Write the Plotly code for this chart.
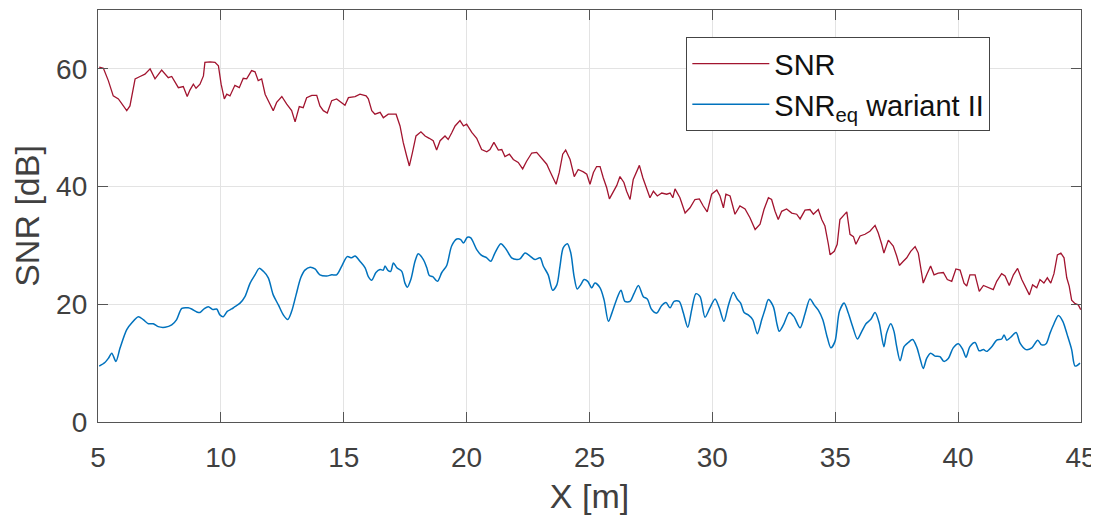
import plotly.graph_objects as go

# SNR curve (x in m, y in dB)
snr_x = [5.05, 5.22, 5.42, 5.62, 5.83, 6.03, 6.17, 6.30, 6.51, 6.71, 6.91, 7.12, 7.32, 7.59, 7.86, 8.00,
         8.27, 8.47, 8.63, 8.74, 8.88, 8.99, 9.15, 9.29, 9.35, 9.56, 9.76, 9.90, 10.01, 10.14, 10.24,
         10.37, 10.57, 10.75, 10.91, 11.05, 11.25, 11.39, 11.52, 11.66, 11.80, 12.00, 12.13, 12.27,
         12.48, 12.68, 12.88, 13.02, 13.19, 13.35, 13.49, 13.70, 13.90, 14.03, 14.17, 14.33, 14.51,
         14.71, 14.92, 15.05, 15.19, 15.46, 15.66, 15.91, 16.00, 16.14, 16.27, 16.48, 16.61, 16.81,
         17.02, 17.13, 17.29, 17.42, 17.56, 17.67, 17.79, 17.94, 18.14, 18.31, 18.48, 18.64, 18.78,
         18.92, 19.12, 19.25, 19.39, 19.53, 19.73, 19.87, 20.00, 20.21, 20.41, 20.61, 20.82, 20.95,
         21.11, 21.29, 21.43, 21.56, 21.74, 21.90, 22.10, 22.28, 22.44, 22.65, 22.85, 23.06, 23.26,
         23.39, 23.53, 23.64, 23.77, 23.91, 24.03, 24.21, 24.38, 24.54, 24.75, 24.89, 25.02, 25.16,
         25.29, 25.43, 25.56, 25.70, 25.81, 25.94, 26.11, 26.24, 26.40, 26.51, 26.65, 26.78, 26.92,
         27.03, 27.17, 27.30, 27.46, 27.60, 27.76, 27.94, 28.14, 28.28, 28.39, 28.48, 28.68, 28.89,
         29.09, 29.29, 29.47, 29.63, 29.79, 29.97, 30.18, 30.31, 30.45, 30.55, 30.72, 30.92, 31.12,
         31.33, 31.53, 31.74, 31.94, 32.10, 32.28, 32.41, 32.55, 32.68, 32.82, 33.02, 33.23, 33.43,
         33.57, 33.77, 33.97, 34.11, 34.31, 34.45, 34.58, 34.72, 34.79, 34.96, 35.08, 35.19, 35.33,
         35.47, 35.60, 35.74, 35.84, 36.01, 36.21, 36.41, 36.62, 36.75, 36.89, 36.98, 37.16, 37.36,
         37.50, 37.61, 37.77, 37.91, 38.07, 38.25, 38.38, 38.52, 38.58, 38.72, 38.88, 39.02, 39.19,
         39.40, 39.56, 39.74, 39.91, 40.08, 40.24, 40.35, 40.48, 40.69, 40.86, 41.03, 41.23, 41.43,
         41.57, 41.77, 41.91, 42.08, 42.25, 42.42, 42.59, 42.72, 42.90, 43.03, 43.20, 43.33, 43.49,
         43.63, 43.77, 43.90, 44.04, 44.18, 44.31, 44.42, 44.52, 44.62, 44.76, 44.89, 44.99]
snr_y = [60.3, 60.1, 58.0, 55.4, 54.9, 53.8, 52.9, 53.7, 58.3, 58.7, 59.1, 60.0, 58.3, 59.8, 58.5, 58.7,
         56.8, 57.0, 55.3, 56.4, 57.4, 56.7, 57.4, 58.8, 61.1, 61.2, 61.1, 60.5, 57.4, 54.9, 55.7,
         55.4, 57.2, 56.8, 58.4, 58.3, 59.7, 59.5, 58.0, 58.3, 55.7, 54.0, 52.9, 54.3,
         55.3, 54.0, 52.9, 51.0, 53.6, 53.4, 55.1, 55.5, 55.5, 53.7, 52.9, 52.5, 54.6,
         54.9, 54.3, 53.8, 55.1, 55.3, 55.7, 55.4, 54.9, 52.9, 52.3, 52.6, 51.7, 52.3,
         52.3, 52.3, 50.3, 47.5, 45.2, 43.5, 45.7, 48.6, 49.3, 48.6, 48.2, 47.8, 46.2,
         47.8, 48.6, 48.0, 49.1, 50.3, 51.2, 50.3, 50.6, 49.2, 48.2, 46.3, 45.9, 46.3,
         47.5, 46.2, 46.3, 45.1, 45.5, 44.6, 44.1, 43.0, 44.3, 45.7, 45.8, 44.7, 43.8,
         42.6, 41.3, 40.4, 42.4, 45.5, 46.2, 44.6, 41.7, 42.9, 42.5, 42.1, 40.4, 42.4,
         43.4, 43.4, 41.5, 39.8, 37.9, 38.9, 40.2, 41.7, 40.7, 39.2, 37.8, 41.2, 42.6,
         43.6, 41.5, 40.0, 38.1, 39.2, 38.4, 38.9, 38.7, 38.9, 38.1, 39.6, 38.1, 35.5,
         36.4, 37.8, 37.9, 36.7, 35.7, 38.7, 39.4, 38.4, 36.4, 38.7, 38.4, 35.3, 36.7,
         36.2, 34.7, 32.7, 33.6, 36.1, 38.1, 37.8, 35.8, 34.4, 35.8, 36.2, 35.5, 35.3,
         34.5, 36.0, 36.1, 35.3, 36.1, 34.4, 33.3, 30.2, 28.4, 29.0, 30.2, 34.4, 35.1,
         35.7, 31.9, 31.5, 30.2, 31.6, 31.9, 32.4, 33.4, 32.1, 30.2, 28.7, 30.9, 29.9,
         28.2, 26.6, 27.3, 27.9, 29.0, 29.8, 28.7, 25.0, 23.6, 25.0, 26.5, 25.0, 25.3,
         25.4, 24.2, 23.9, 26.0, 25.8, 23.6, 23.1, 25.0, 25.0, 22.2, 23.2, 22.8, 22.5,
         23.9, 25.2, 24.8, 23.2, 25.0, 26.1, 24.2, 23.1, 21.6, 23.3, 22.8, 24.2, 23.6,
         24.5, 23.6, 25.2, 28.4, 28.7, 27.9, 24.5, 23.1, 20.7, 20.1, 19.9, 19.1]

# SNR_eq wariant II curve
eq_x = [5.05, 5.28, 5.42, 5.56, 5.73, 5.90, 6.17, 6.37, 6.64, 6.84, 7.05, 7.25, 7.45, 7.73, 8.00, 8.20,
        8.41, 8.67, 8.81, 9.02, 9.15, 9.31, 9.49, 9.67, 9.83, 9.96, 10.10, 10.26, 10.44, 10.57, 10.78,
        10.98, 11.19, 11.39, 11.56, 11.73, 11.93, 12.13, 12.34, 12.54, 12.72, 12.88, 13.06, 13.25,
        13.42, 13.63, 13.83, 14.03, 14.31, 14.51, 14.71, 14.92, 15.14, 15.32, 15.46, 15.66, 15.87,
        16.00, 16.14, 16.31, 16.48, 16.61, 16.68, 16.81, 16.91, 17.02, 17.16, 17.36, 17.49, 17.59,
        17.73, 17.90, 18.03, 18.24, 18.38, 18.48, 18.62, 18.81, 18.99, 19.19, 19.39, 19.60, 19.76,
        19.87, 20.03, 20.17, 20.41, 20.61, 20.82, 20.98, 21.15, 21.39, 21.60, 21.83, 22.04, 22.17,
        22.38, 22.58, 22.78, 22.99, 23.12, 23.32, 23.50, 23.67, 23.80, 23.93, 24.10, 24.24, 24.37,
        24.50, 24.64, 24.78, 24.93, 25.09, 25.22, 25.43, 25.59, 25.77, 25.91, 26.11, 26.28, 26.44,
        26.65, 26.81, 26.99, 27.19, 27.35, 27.53, 27.73, 27.94, 28.11, 28.28, 28.44, 28.65, 28.82,
        29.00, 29.16, 29.33, 29.50, 29.70, 29.90, 30.11, 30.28, 30.47, 30.65, 30.85, 31.01, 31.15,
        31.29, 31.46, 31.64, 31.83, 32.01, 32.14, 32.28, 32.48, 32.62, 32.72, 32.89, 33.13, 33.32,
        33.57, 33.77, 33.97, 34.14, 34.31, 34.49, 34.68, 34.82, 34.99, 35.17, 35.36, 35.53, 35.71,
        35.90, 36.08, 36.25, 36.44, 36.62, 36.79, 36.98, 37.09, 37.26, 37.39, 37.50, 37.64, 37.80,
        37.97, 38.15, 38.31, 38.45, 38.58, 38.72, 38.88, 39.06, 39.26, 39.42, 39.60, 39.80, 40.01,
        40.19, 40.32, 40.48, 40.69, 40.86, 41.03, 41.16, 41.37, 41.57, 41.77, 41.87, 41.98, 42.14,
        42.36, 42.52, 42.76, 43.00, 43.24, 43.40, 43.58, 43.74, 43.90, 44.08, 44.26, 44.44, 44.62,
        44.76, 44.96]
eq_y = [9.5, 10.1, 10.8, 11.7, 10.3, 12.6, 15.7, 16.8, 17.9, 17.4, 16.7, 16.7, 16.2, 16.1, 16.5, 17.4,
        19.3, 19.4, 19.2, 18.7, 18.6, 19.2, 19.6, 19.1, 19.2, 18.2, 17.9, 18.8, 19.2, 19.6, 20.2,
        21.3, 23.6, 25.0, 26.1, 25.6, 24.5, 21.6, 19.9, 18.2, 17.4, 18.8, 21.6, 24.5,
        25.8, 26.3, 26.0, 25.0, 24.8, 25.0, 25.0, 26.5, 28.1, 27.9, 28.2, 27.3, 26.2,
        24.7, 24.1, 25.4, 25.9, 25.8, 26.5, 25.7, 25.6, 27.0, 26.2, 25.6, 23.6, 22.9,
        24.2, 27.3, 28.6, 27.6, 26.2, 24.9, 24.7, 23.9, 25.4, 26.6, 29.9, 31.1, 31.0,
        30.4, 31.4, 31.3, 29.3, 28.3, 27.9, 27.3, 28.7, 30.3, 29.4, 27.9, 27.6, 27.7,
        28.7, 28.2, 27.6, 27.9, 26.5, 25.0, 22.4, 23.3, 26.5, 29.6, 30.3, 28.7, 24.8,
        22.6, 23.3, 24.2, 23.9, 22.8, 23.6, 22.8, 20.8, 17.1, 18.5, 20.9, 22.4, 20.5,
        20.5, 21.8, 23.2, 21.3, 20.9, 19.1, 18.5, 19.8, 20.3, 19.4, 20.5, 20.5, 18.5,
        16.1, 19.1, 21.8, 21.3, 17.8, 19.4, 20.9, 19.4, 17.1, 19.8, 22.0, 20.9, 20.2,
        18.6, 18.2, 17.4, 15.0, 17.4, 19.1, 20.8, 19.6, 16.8, 15.4, 16.5, 18.6, 17.9,
        16.0, 18.4, 20.9, 19.9, 19.0, 17.4, 14.3, 12.6, 13.7, 18.8, 20.2, 18.5, 16.2,
        14.1, 15.4, 16.7, 17.4, 18.6, 16.8, 12.8, 15.1, 16.7, 15.4, 12.8, 10.4, 12.8,
        13.5, 14.0, 12.8, 10.8, 9.1, 10.8, 11.7, 11.2, 11.1, 10.3, 10.8, 12.6, 13.3,
        12.3, 11.0, 12.8, 13.5, 12.1, 12.3, 12.0, 12.8, 13.9, 14.1, 14.8, 13.9, 14.4,
        15.2, 13.4, 12.3, 12.6, 13.9, 13.1, 13.3, 15.1, 16.7, 18.1, 17.1, 14.8, 12.3,
        9.5, 10.0]

x_ticks = [5, 10, 15, 20, 25, 30, 35, 40, 45]
y_ticks = [0, 20, 40, 60]
series_names = ["SNR", "SNR<sub>eq</sub> wariant II"]

TXT = "#404040"
FONT = "Liberation Sans, Arial, sans-serif"

fig = go.Figure()
fig.add_trace(go.Scatter(x=snr_x, y=snr_y, mode="lines", name=series_names[0], legendgroup="a",
                         line=dict(color="#A2142F", width=1.3)))
fig.add_trace(go.Scatter(x=eq_x, y=eq_y, mode="lines", name=series_names[1], legendgroup="b",
                         line=dict(color="#0072BD", width=1.5, shape="spline", smoothing=0.8)))

axis_common = dict(
    showline=True, linecolor="#555555", linewidth=1.3, mirror="ticks",
    ticks="inside", ticklen=10, tickwidth=1.2, tickcolor="#555555",
    showgrid=True, gridcolor="#e3e3e3", gridwidth=1, zeroline=False,
    tickfont=dict(family=FONT, size=28, color=TXT), automargin=False,
)

fig.update_xaxes(range=[5, 45], tickvals=x_ticks, ticktext=[str(v) for v in x_ticks],
                 title=dict(text="X [m]", font=dict(family=FONT, size=34, color=TXT), standoff=14),
                 ticklabelstandoff=10, **axis_common)
fig.update_yaxes(range=[0, 70], tickvals=y_ticks, ticktext=[str(v) for v in y_ticks],
                 title=dict(text="SNR [dB]", font=dict(family=FONT, size=34, color=TXT), standoff=10),
                 ticklabelstandoff=4, **axis_common)

# the page body adds an 8 px offset, so the figure is drawn 8 px smaller and margins shifted
fig.update_layout(
    width=1091, height=507,
    margin=dict(l=90, r=18, t=2, b=93, autoexpand=False),
    paper_bgcolor="white", plot_bgcolor="white",
    font=dict(family=FONT, color=TXT),
    showlegend=True,
    legend=dict(x=0.5985, y=0.934, xanchor="left", yanchor="top",
                bgcolor="white", bordercolor="#444444", borderwidth=1,
                font=dict(family=FONT, size=29, color="#111111"),
                itemwidth=77, tracegroupgap=0),
)

fig.write_html("out.html")
